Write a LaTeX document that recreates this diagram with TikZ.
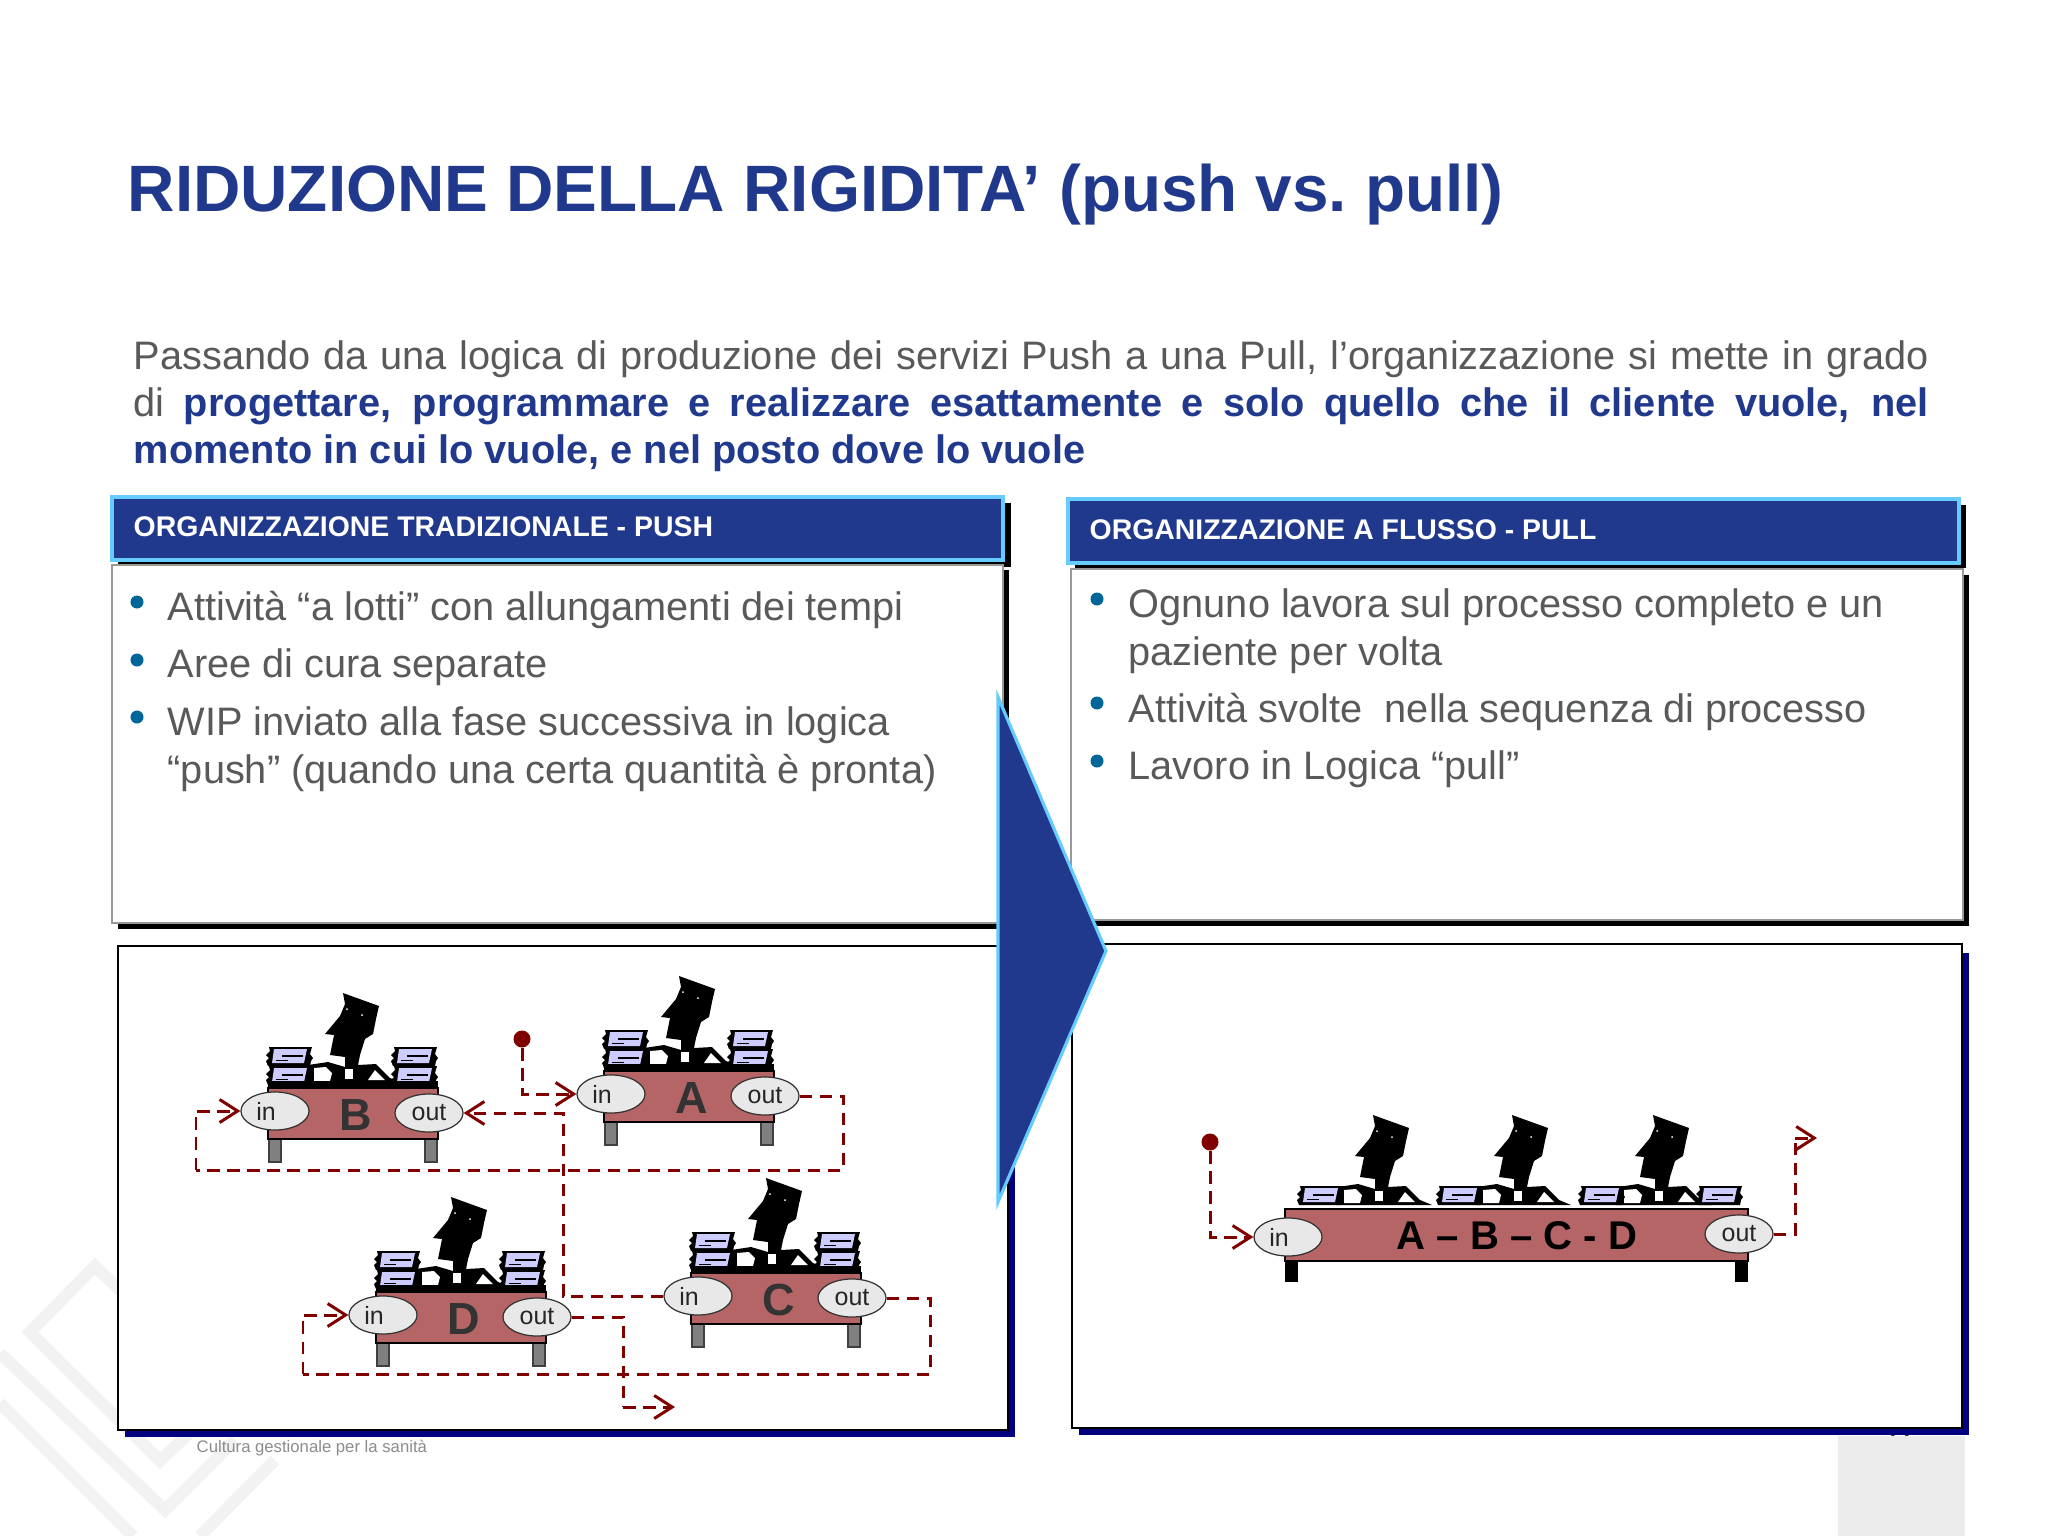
\documentclass[tikz,border=0pt]{standalone}
\usepackage{fontspec}
\setmainfont{Liberation Sans}
\usetikzlibrary{arrows.meta,shapes.geometric}

\definecolor{slideblue}{HTML}{21398C}
\definecolor{edgeblue}{HTML}{66CCFF}
\definecolor{bodygray}{HTML}{58595B}
\definecolor{bulletblue}{HTML}{006699}
\definecolor{tablered}{HTML}{B56566}
\definecolor{flowred}{HTML}{800000}
\definecolor{paperlilac}{HTML}{CCCCFF}
\definecolor{navyshadow}{HTML}{000080}

\tikzset{
    titletext/.style={anchor=base west, inner sep=0, text=slideblue, font=\frenchspacing\fontsize{18.65pt}{21pt}\bfseries},
    headtext/.style={anchor=base west, inner sep=0, text=white, font=\fontsize{8.08pt}{10pt}\bfseries},
    bodytext/.style={anchor=base west, inner sep=0, text=bodygray, font=\fontsize{11.3pt}{13pt}\selectfont},
    bulletdot/.style={circle, fill=bulletblue, inner sep=0, minimum size=0.13cm},
    headbox/.style={fill=slideblue, draw=edgeblue, line width=0.9pt},
    port/.style={ellipse, draw=black!80, line width=0.35pt, fill=black!9, inner sep=0,
        minimum width=0.68cm, minimum height=0.38cm, text=black!85, font=\fontsize{7.1pt}{8pt}\selectfont},
    flowline/.style={draw=flowred, line width=0.85pt, dash pattern=on 0.125cm off 0.075cm},
    flowarrow/.style={flowline, -{Straight Barb[length=1.8mm,width=2.3mm]}},
    source/.style={circle, fill=flowred, inner sep=0, minimum size=0.17cm},
    chevron/.style={draw=black!5, line width=3.4pt, line join=miter}
}

% one line of the intro, stretched to the full measure
\newcommand{\fullline}[1]{\makebox[17.94cm][s]{#1}}

% one stack of sheets, base corner at (#1,#2)
\newcommand{\papers}[2]{
    \begin{scope}[shift={(#1,#2)}]
        \fill[black] (2,0) -- (44,0) -- (45,-5) -- (47,-8) -- (44,-12) -- (46,-19) -- (3,-19)
            -- (4,-15) -- (0,-11) -- (3,-8) -- (0,-5) -- cycle;
        \fill[paperlilac] (8,-17) -- (41,-17) -- (38,-3) -- (6,-3) -- cycle;
        \fill[black] (16,-11) rectangle (37,-9);
        \fill[black] (10,-6) rectangle (22,-5);
    \end{scope}
}

% the clerk, origin on the table top
\newcommand{\worker}[2]{
    \begin{scope}[shift={(#1,#2)}]
        \fill[black] (75,-95) -- (111,-82) -- (108,-69) -- (105,-54) -- (97,-49) -- (92,-33) -- (90,-23)
            -- (108,-24) -- (122,-10) -- (134,-5) -- (38,-5) -- (40,-23) -- (60,-26) -- (77,-21)
            -- (77,-31) -- (62,-33) -- (66,-53) -- (57,-54) -- (72,-72) -- (77,-84) -- cycle;
        \fill[white] (46,-20) -- (58,-21) -- (64,-15) -- (62,-7) -- (46,-7) -- cycle;
        \fill[white] (77,-19) rectangle (85,-9);
        \fill[white] (100,-8) -- (107,-18) -- (117,-8) -- cycle;
        \fill[white] (79,-79) circle (1);
        \fill[white] (94,-73) circle (1);
    \end{scope}
}

% desk with one clerk, in and out ports, named from the letter
\newcommand{\deskunit}[3]{
    \worker{#1}{#2}
    \papers{#1-2}{#2-3}
    \papers{#1-2}{#2-22}
    \papers{#1+123}{#2-3}
    \papers{#1+123}{#2-22}
    \begin{scope}[shift={(#1,#2)}]
        \fill[black] (0,-7) rectangle (170,0);
        \draw[fill=black!50, draw=black!75, line width=0.6pt] (1,51) rectangle (13,74);
        \draw[fill=black!50, draw=black!75, line width=0.6pt] (157,51) rectangle (169,74);
        \draw[fill=tablered, draw=black, line width=0.8pt] (0,0) rectangle (170,51);
        \node[text=black!80, font=\fontsize{12.8pt}{14pt}\bfseries] (letter#3) at (88,27) {#3};
        \node[port] (in#3) at (7,23) {in\rule{0.18cm}{0pt}};
        \node[port] (out#3) at (161,25) {out};
    \end{scope}
}

\begin{document}
\begin{tikzpicture}[x=0.01cm, y=-0.01cm]
    \useasboundingbox (0,0) rectangle (2048,1536);
    \fill[white] (0,0) rectangle (2048,1536);

    % faded logo in the corner
    \draw[chevron] (190,1432) -- (160,1461) -- (30,1332) -- (95,1266) -- (130,1300);
    \draw[chevron] (0,1353) -- (165,1510) -- (235,1440);
    \draw[chevron] (0,1403) -- (133,1536);
    \draw[chevron] (200,1536) -- (275,1460);
    \node[anchor=base west, inner sep=0, text=black!45, font=\fontsize{4.75pt}{6pt}\selectfont] (brand) at (196,1452) {Cultura gestionale per la sanità};

    % page number and its tab
    \node[anchor=base, inner sep=0, text=black!80, font=\fontsize{10.8pt}{12pt}\selectfont] (pagenum) at (1900,1445) {6};
    \fill[black!8] (1838,1436) rectangle (1965,1536);

    % title and intro
    \node[titletext] (title) at (127,211) {RIDUZIONE DELLA RIGIDITA’ (push vs. pull)};
    \node[anchor=north west, inner sep=0, align=left, text=bodygray,
        font=\fontsize{11.3pt}{13.37pt}\selectfont] (intro) at (133,340)
        {\fullline{Passando da una logica di produzione dei servizi Push a una Pull, l’organizzazione si mette in grado}\\
         \fullline{di {\bfseries\color{slideblue} progettare, programmare e realizzare esattamente e solo quello che il cliente vuole, nel}}\\
         {\bfseries\color{slideblue} momento in cui lo vuole, e nel posto dove lo vuole}};

    % left column
    \fill[black] (118,503) rectangle (1011,567);
    \draw[headbox] (112,497) rectangle (1003,560);
    \fill[black] (118,570) rectangle (1009,929);
    \draw[fill=white, draw=black!40, line width=0.6pt] (112,565) rectangle (1003,923);
    \fill[navyshadow] (125,955) rectangle (1015,1437);
    \draw[fill=white, draw=black, line width=0.8pt] (118,946) rectangle (1008,1430);
    \node[headtext] (headpush) at (133,536) {ORGANIZZAZIONE TRADIZIONALE - PUSH};
    \node[bulletdot] (dotp1) at (137,602) {};
    \node[bulletdot] (dotp2) at (137,660) {};
    \node[bulletdot] (dotp3) at (137,717) {};
    \node[bodytext] (push1) at (167,620) {Attività “a lotti” con allungamenti dei tempi};
    \node[bodytext] (push2) at (167,677) {Aree di cura separate};
    \node[bodytext] (push3) at (167,735) {WIP inviato alla fase successiva in logica};
    \node[bodytext] (push4) at (167,783) {“push” (quando una certa quantità è pronta)};

    % right column
    \fill[black] (1075,505) rectangle (1966,568);
    \draw[headbox] (1068,499) rectangle (1959,563);
    \fill[black] (1077,575) rectangle (1969,926);
    \draw[fill=white, draw=black!40, line width=0.6pt] (1071,569) rectangle (1963,920);
    \fill[navyshadow] (1079,953) rectangle (1969,1435);
    \draw[fill=white, draw=black, line width=0.8pt] (1072,944) rectangle (1962,1428);
    \node[headtext] (headpull) at (1089,539) {ORGANIZZAZIONE A FLUSSO - PULL};
    \node[bulletdot] (dotq1) at (1097,599) {};
    \node[bulletdot] (dotq2) at (1097,703) {};
    \node[bulletdot] (dotq3) at (1097,761) {};
    \node[bodytext] (pull1) at (1128,617) {Ognuno lavora sul processo completo e un};
    \node[bodytext] (pull2) at (1128,665) {paziente per volta};
    \node[bodytext] (pull3) at (1128,722) {Attività svolte\ \ nella sequenza di processo};
    \node[bodytext] (pull4) at (1128,779) {Lavoro in Logica “pull”};

    % push to pull arrow
    \draw[fill=slideblue, draw=edgeblue, line width=0.9pt, line join=miter] (998,697) -- (1106,951) -- (998,1202) -- cycle;

    % four desks
    \deskunit{268}{1088}{B}
    \deskunit{604}{1071}{A}
    \deskunit{376}{1292}{D}
    \deskunit{691}{1273}{C}

    \node[source] (startpush) at (522,1039) {};
    \coordinate (busR) at (843,1170);
    \coordinate (busL) at (196,1170);
    \coordinate (midline) at (563,1200);
    \coordinate (lowR) at (930,1374);
    \coordinate (lowL) at (303,1374);
    \coordinate (exitpush) at (675,1407);
    \coordinate (dropD) at (623,1407);

    \draw[flowarrow] (startpush) |- (inA.west);
    \draw[flowline] (outA.east) -| (busR) -- (busL);
    \draw[flowarrow] (busL) |- (inB.west);
    \draw[flowarrow] (inC.west) -| (midline) |- (outB.east);
    \draw[flowline] (outC.east) -| (lowR) -- (lowL);
    \draw[flowarrow] (lowL) |- (inD.west);
    \draw[flowline] (outD.east) -| (dropD);
    \draw[flowarrow] (dropD) -- (exitpush);

    % single long desk
    \worker{1298}{1210}
    \worker{1437}{1210}
    \worker{1578}{1210}
    \papers{1297}{1205}
    \papers{1436}{1205}
    \papers{1578}{1205}
    \papers{1696}{1205}
    \fill[black] (1285,1261) rectangle (1298,1282);
    \fill[black] (1735,1261) rectangle (1748,1282);
    \draw[fill=tablered, draw=black, line width=0.8pt] (1285,1209) rectangle (1748,1261);
    \node[text=black, font=\fontsize{11.4pt}{13pt}\bfseries] (abcd) at (1517,1236) {A – B – C - D};
    \node[port] (inE) at (1288,1237) {in\rule{0.18cm}{0pt}};
    \node[port] (outE) at (1739,1234) {out};

    \node[source] (startpull) at (1210,1142) {};
    \coordinate (risepull) at (1795,1138);
    \coordinate (exitpull) at (1817,1138);
    \draw[flowarrow] (startpull) |- (inE.west);
    \draw[flowline] (outE.east) -| (risepull);
    \draw[flowarrow] (risepull) -- (exitpull);
\end{tikzpicture}
\end{document}
